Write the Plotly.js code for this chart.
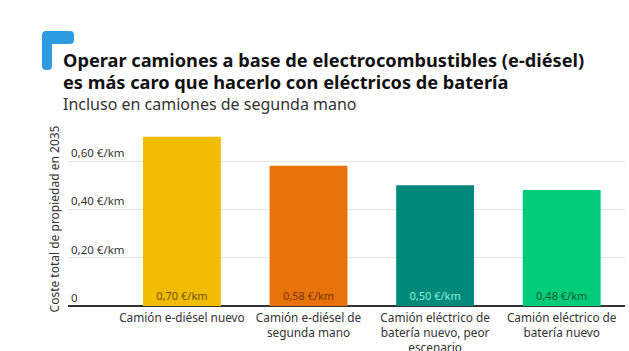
<!DOCTYPE html>
<html>
<head>
<meta charset="utf-8">
<script src="https://cdn.plot.ly/plotly-3.0.1.min.js"></script>
<style>
html,body{margin:0;padding:0;background:#fff;}
#chart{width:629px;height:351px;}
</style>
</head>
<body>
<div id="chart"></div>
<script>
const categories = [
  "Camión e-diésel nuevo",
  "Camión e-diésel de<br>segunda mano",
  "Camión eléctrico de<br>batería nuevo, peor<br>escenario",
  "Camión eléctrico de<br>batería nuevo"
];
const values = [0.70, 0.58, 0.50, 0.48];
const valueLabels = ["0,70 €/km", "0,58 €/km", "0,50 €/km", "0,48 €/km"];
const barColors = ["#F2BD00", "#E8720C", "#00897B", "#00CC7A"];
const labelColors = ["#6E5400", "#7A3500", "#8EEBD8", "#0B5C30"];
const yTickVals = [0, 0.2, 0.4, 0.6];
const yTickText = ["0", "0,20 €/km", "0,40 €/km", "0,60 €/km"];
const titleLines = [
  "Operar camiones a base de electrocombustibles (e-diésel)",
  "es más caro que hacerlo con eléctricos de batería"
];
const subtitle = "Incluso en camiones de segunda mano";
const yTitle = "Coste total de propiedad en 2035";

const W = 629, H = 351;
const L = 68, R = 4, T = 132, B = 45;
const px = x => (x - L) / (W - L - R);
const py = y => (H - B - y) / (H - T - B);

const trace = {
  type: "bar",
  x: [0, 1, 2, 3],
  y: values,
  width: 0.615,
  marker: {color: barColors, line: {width: 0}},
  text: valueLabels,
  textposition: "inside",
  insidetextanchor: "start",
  textangle: 0,
  textfont: {family: "Noto Sans", size: 11, color: labelColors},
  constraintext: "none",
  hoverinfo: "none",
  cliponaxis: false
};

const font = "Noto Sans";
const layout = {
  width: W, height: H,
  margin: {l: L, r: R, t: T, b: B, pad: 0},
  paper_bgcolor: "#fff",
  plot_bgcolor: "#fff",
  showlegend: false,
  font: {family: font, color: "#333"},
  bargap: 0.3,
  xaxis: {
    range: [-0.9, 3.5],
    tickvals: [0, 1, 2, 3],
    ticktext: categories,
    showgrid: false,
    zeroline: false,
    showline: false,
    ticks: "",
    tickfont: {family: font, size: 11.8, color: "#333"},
    ticklabelstandoff: 3,
    automargin: false,
    fixedrange: true
  },
  yaxis: {
    range: [0, 0.72],
    tickvals: yTickVals,
    ticktext: yTickText,
    ticklabelposition: "inside",
    ticklabelshift: -8,
    tickfont: {family: font, size: 11.5, color: "#333"},
    showgrid: true,
    gridcolor: "#e4e4e4",
    gridwidth: 1,
    zeroline: true,
    zerolinecolor: "#333",
    zerolinewidth: 1.5,
    showline: false,
    ticks: "",
    automargin: false,
    title: {text: yTitle, font: {family: font, size: 12, color: "#333"}, standoff: 8},
    fixedrange: true
  },
  shapes: [
    {
      type: "path",
      xref: "paper", yref: "paper",
      xsizemode: "pixel", ysizemode: "pixel",
      xanchor: px(42), yanchor: py(31),
      path: "M 0 -4 Q 0 0 4 0 L 28 0 Q 32 0 32 -4 L 32 -9 Q 32 -13 28 -13 L 10 -13 L 10 -35 Q 10 -39 6 -39 L 4 -39 Q 0 -39 0 -35 Z",
      fillcolor: "#2F9BE0",
      line: {width: 0}
    }
  ],
  annotations: [
    {
      text: "<b>" + titleLines[0] + "</b>",
      xref: "paper", yref: "paper", x: px(61), y: py(60),
      xanchor: "left", yanchor: "middle", showarrow: false,
      font: {family: font, size: 18.2, color: "#111"}
    },
    {
      text: "<b>" + titleLines[1] + "</b>",
      xref: "paper", yref: "paper", x: px(61), y: py(82),
      xanchor: "left", yanchor: "middle", showarrow: false,
      font: {family: font, size: 18.2, color: "#111"}
    },
    {
      text: subtitle,
      xref: "paper", yref: "paper", x: px(61), y: py(104),
      xanchor: "left", yanchor: "middle", showarrow: false,
      font: {family: font, size: 16, color: "#333"}
    }
  ]
};

Plotly.newPlot("chart", [trace], layout, {displayModeBar: false, staticPlot: true});
</script>
</body>
</html>
